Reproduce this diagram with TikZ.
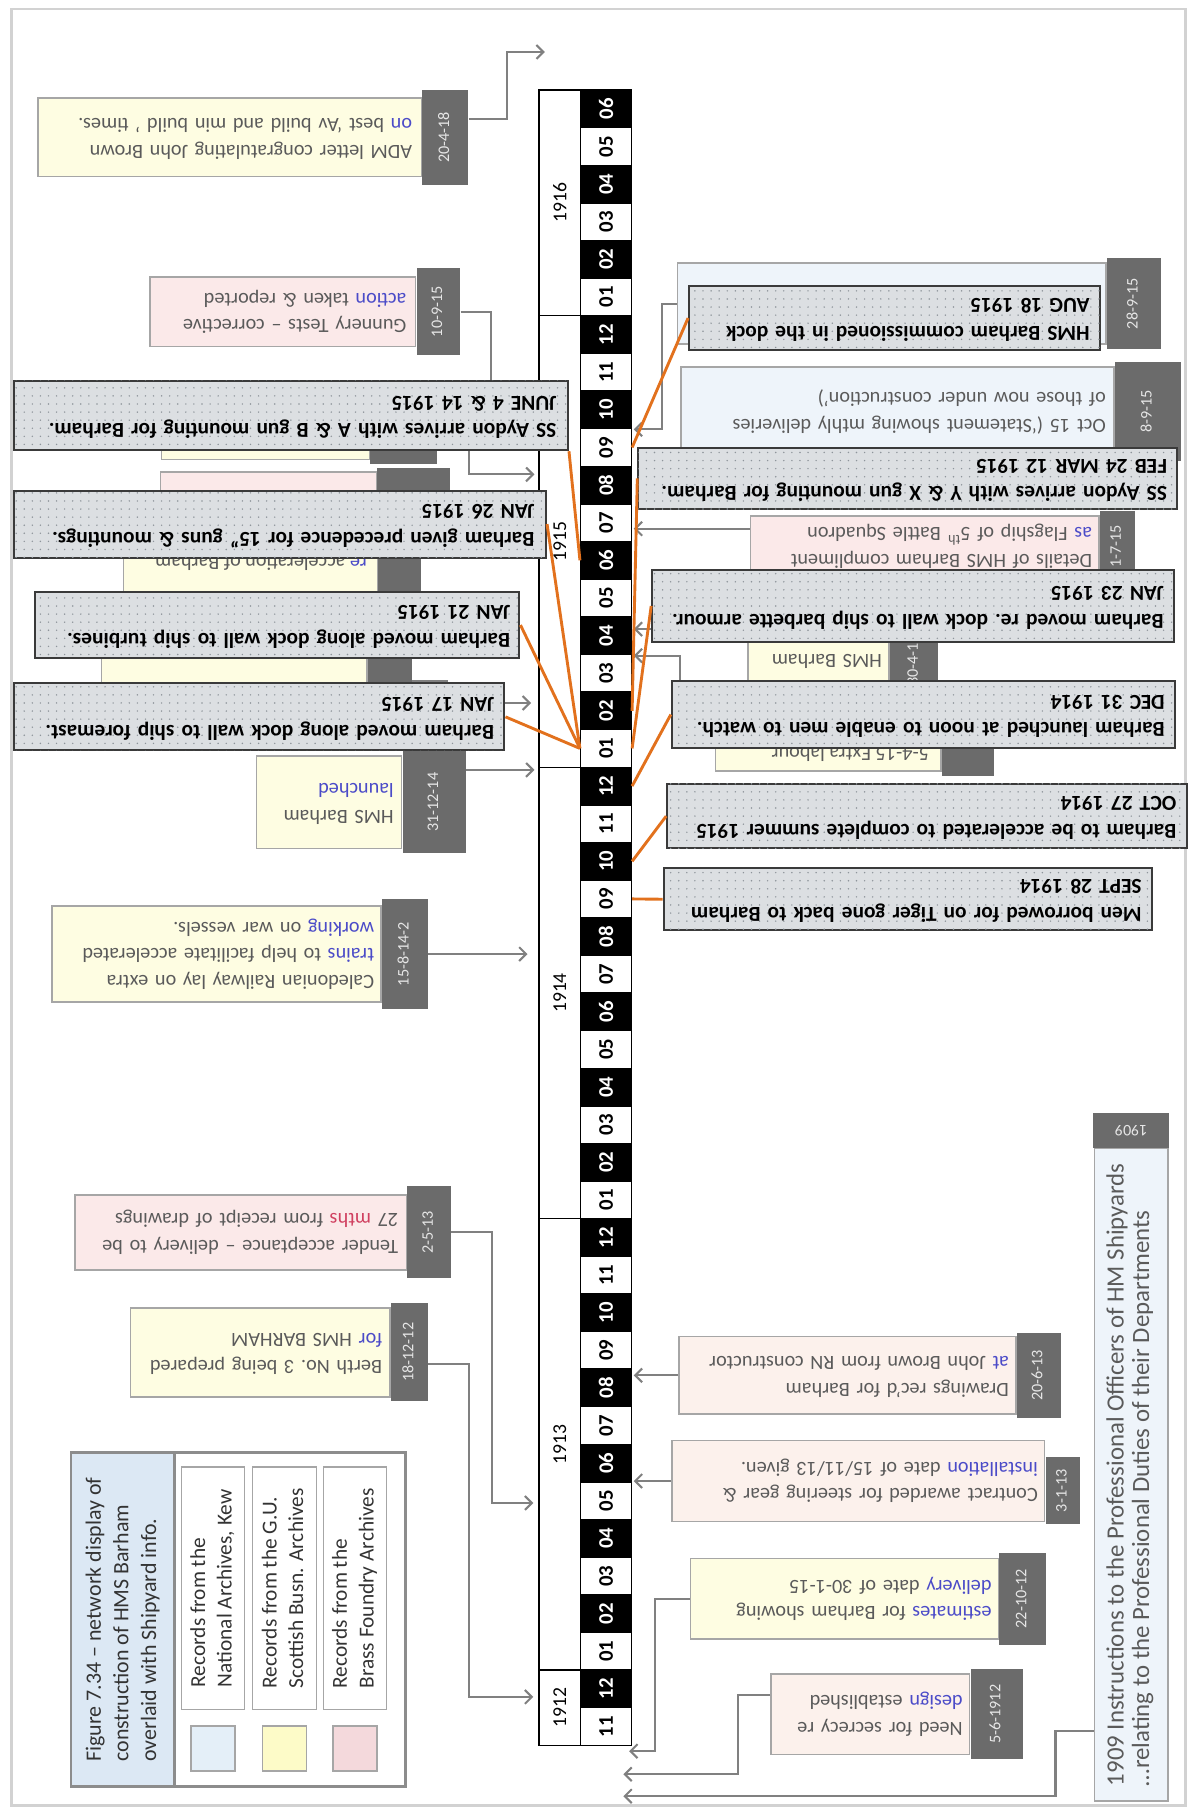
\documentclass[tikz,border=0pt]{standalone}
\usepackage{graphicx}
\usepackage{fontspec}
\setmainfont{Carlito}
\usetikzlibrary{positioning,arrows.meta,patterns.meta}

\definecolor{gfill}{HTML}{DCDFE2}
\definecolor{gdot}{HTML}{8E959B}
\definecolor{gline}{HTML}{3A3A3A}
\definecolor{cline}{HTML}{A6A6A6}
\definecolor{ctext}{HTML}{5A5A5A}
\definecolor{tabgray}{HTML}{6B6B6B}
\definecolor{tabtext}{HTML}{E6E6E6}
\definecolor{nablue}{HTML}{EEF4FA}
\definecolor{guyellow}{HTML}{FEFDE2}
\definecolor{bfpink}{HTML}{FBE9E9}
\definecolor{bfpeach}{HTML}{FCF1EC}
\definecolor{swblue}{HTML}{E4EFF8}
\definecolor{swyellow}{HTML}{FDFBC8}
\definecolor{swpink}{HTML}{F4D9DC}
\definecolor{orangeline}{HTML}{E2711D}
\definecolor{connline}{HTML}{808080}
\definecolor{markblue}{HTML}{4B4BC8}
\definecolor{markred}{HTML}{D04060}
\definecolor{titleblue}{HTML}{DCE8F4}
\definecolor{legendgray}{HTML}{8C8C8C}
\definecolor{framegray}{HTML}{D2D2D2}

\newcommand\flipped[1]{\rotatebox{180}{\begin{tabular}{@{}l@{}}#1\end{tabular}}}
\newcommand\sidewise[1]{\rotatebox{90}{\begin{tabular}{@{}l@{}}#1\end{tabular}}}
\newcommand\blu[1]{\textcolor{markblue}{#1}}

\tikzset{
  month/.style={draw=black, line width=1.2pt, minimum width=44pt, minimum height=32.59pt,
    inner sep=0pt, font=\bfseries\fontsize{18}{18}\selectfont},
  yearbox/.style={draw=black, line width=1.2pt, minimum width=36pt, inner sep=0pt,
    font=\fontsize{17}{17}\selectfont},
  card/.style={draw=cline, line width=1.3pt, inner sep=0pt, align=right, text=ctext,
    font=\fontsize{17.5}{23}\selectfont},
  cardtext/.style={inner sep=0pt, text=ctext, font=\fontsize{17.5}{23}\selectfont},
  tab/.style={fill=tabgray, inner sep=0pt, text=tabtext, font=\fontsize{14}{16}\selectfont},
  gbox/.style={draw=gline, line width=1.8pt, fill=gfill,
    postaction={pattern={Dots[distance=7pt,radius=0.7pt]}, pattern color=gdot},
    inner sep=0pt, align=right, font=\bfseries\fontsize{18.5}{24}\selectfont},
  conn/.style={draw=connline, line width=1.8pt, -{Straight Barb[length=6pt,width=12pt]}},
  tie/.style={draw=orangeline, line width=2.5pt},
  recbox/.style={draw=gray!70, line width=1.2pt, fill=white, minimum width=55pt,
    minimum height=210pt, inner sep=0pt, text=black!80, font=\fontsize{18.5}{23}\selectfont},
  swatch/.style={draw=gray!70, line width=1.5pt, minimum width=38pt, minimum height=39pt, inner sep=0pt},
}

\begin{document}
\begin{tikzpicture}[x=1pt,y=-1pt]
	\useasboundingbox (0,0) rectangle (1030,1568);
	\draw[framegray, line width=2pt] (10,8) rectangle (1027,1564);
	%% years
	\node[yearbox, minimum height=65.18pt] (y1912) at (485,1479.41) {\rotatebox{90}{1912}};
	\node[yearbox, minimum height=391.08pt] (y1913) at (485,1251.28) {\rotatebox{90}{1913}};
	\node[yearbox, minimum height=391.08pt] (y1914) at (485,860.2) {\rotatebox{90}{1914}};
	\node[yearbox, minimum height=391.08pt] (y1915) at (485,469.12) {\rotatebox{90}{1915}};
	\node[yearbox, minimum height=195.54pt] (y1916) at (485,175.81) {\rotatebox{90}{1916}};
	%% months, m0 = 11/1912 ... m43 = 06/1916
	\foreach \k in {0,...,43}{
		\pgfmathtruncatemacro\mon{mod(10+\k,12)+1}
		\pgfmathsetmacro\yc{1512-(\k+0.5)*32.59}
		\ifodd\mon \def\cellfill{white}\def\celltext{black}\else \def\cellfill{black}\def\celltext{white}\fi
		\node[month, fill=\cellfill, text=\celltext] (m\k) at (525,\yc) {\rotatebox{90}{\ifnum\mon<10 0\fi\mon}};
	}

	%% left cards
	\node[card, fill=guyellow, minimum width=332pt, minimum height=68pt, text width=316pt] (adm) at (199,119)
		{\flipped{ADM letter congratulating John Brown\\\blu{on} best ‘Av build and min build ’ times.}};
	\node[tab, minimum width=40pt, minimum height=82pt, right=0pt of adm] (admd) {\sidewise{20-4-18}};
	\node[card, fill=bfpink, minimum width=230pt, minimum height=60pt, text width=214pt] (gun) at (245,270)
		{\flipped{Gunnery Tests – corrective\\\blu{action} taken \& reported}};
	\node[tab, minimum width=38pt, minimum height=75pt, right=0pt of gun] (gund) {\sidewise{10-9-15}};
	\node[card, fill=guyellow, minimum width=180pt, minimum height=58pt] (hid1) at (230,369) {};
	\node[tab, minimum width=58pt, minimum height=66pt, right=0pt of hid1] (hid1d) {};
	\node[card, fill=bfpink, minimum width=187pt, minimum height=61pt] (hid2) at (232.5,439.5) {};
	\node[tab, minimum width=63pt, minimum height=68pt, right=0pt of hid2] (hid2d) {};
	\node[card, fill=guyellow, minimum width=220pt, minimum height=60pt] (accel) at (217,500) {};
	\node[tab, minimum width=37pt, minimum height=68pt, right=0pt of accel] (acceld) {};
	\node[cardtext, anchor=east] (accelt) at (318,487) {\flipped{\blu{re} acceleration of Barham}};
	\node[card, fill=guyellow, minimum width=230pt, minimum height=60pt] (hid3) at (203,590) {};
	\node[tab, minimum width=38pt, minimum height=68pt, right=0pt of hid3] (hid3d) {};
	\node[card, fill=guyellow, minimum width=126pt, minimum height=80pt, text width=112pt] (launch) at (285,695)
		{\flipped{HMS Barham\\\blu{launched}}};
	\node[tab, minimum width=55pt, minimum height=88pt, right=0pt of launch] (launchd) {\sidewise{31-12-14}};
	\node[card, fill=guyellow, minimum width=285pt, minimum height=83pt, text width=273pt] (rail) at (187.5,826.5)
		{\flipped{Caledonian Railway lay on extra\\\blu{trains} to help facilitate accelerated\\\blu{working} on war vessels.}};
	\node[tab, minimum width=40pt, minimum height=96pt, right=0pt of rail] (raild) {\sidewise{15-8-14-2}};
	\node[card, fill=bfpink, minimum width=287pt, minimum height=65pt, text width=273pt] (tender) at (208.5,1067.5)
		{\flipped{Tender acceptance – delivery to be\\27 \textcolor{markred}{mths} from receipt of drawings}};
	\node[tab, minimum width=38pt, minimum height=80pt, right=0pt of tender] (tenderd) {\sidewise{2-5-13}};
	\node[card, fill=guyellow, minimum width=225pt, minimum height=77pt, text width=211pt] (berth) at (225.5,1171.5)
		{\flipped{Berth No.\ 3 being prepared\\\blu{for} HMS BARHAM}};
	\node[tab, minimum width=32pt, minimum height=85pt, right=0pt of berth] (berthd) {\sidewise{18-12-12}};

	%% right cards
	\node[card, fill=nablue, minimum width=371pt, minimum height=70pt] (comm) at (772.5,263) {};
	\node[tab, minimum width=47pt, minimum height=79pt, right=0pt of comm] (commd) {\sidewise{28-9-15}};
	\node[card, fill=nablue, minimum width=375pt, minimum height=77pt, text width=361pt] (stmt) at (777.5,356.5)
		{\flipped{Oct 15 (‘Statement showing mthly deliveries\\of those now under construction’)}};
	\node[tab, minimum width=57pt, minimum height=86pt, right=0pt of stmt] (stmtd) {\sidewise{8-9-15}};
	\node[card, fill=bfpink, minimum width=302pt, minimum height=53pt, text width=290pt] (flag) at (801,473.5)
		{\flipped{Details of HMS Barham compliment\\\blu{as} Flagship of 5\textsuperscript{th} Battle Squadron}};
	\node[tab, minimum width=30pt, minimum height=62pt, right=0pt of flag] (flagd) {\sidewise{1-7-15}};
	\node[card, fill=guyellow, minimum width=122pt, minimum height=48pt, text width=110pt] (hms) at (709,572)
		{\flipped{HMS Barham}};
	\node[tab, minimum width=42pt, minimum height=54pt, right=0pt of hms] (hmsd) {\sidewise{30-4-15}};
	\node[card, fill=guyellow, minimum width=195pt, minimum height=68pt] (labour) at (717.5,634) {};
	\node[tab, minimum width=45pt, minimum height=76pt, right=0pt of labour] (labourd) {};
	\node[cardtext, anchor=east] (labourt) at (805,652) {\flipped{5-4-15 Extra labour}};
	\node[card, fill=bfpeach, minimum width=292pt, minimum height=67pt, text width=280pt] (drawings) at (734,1191.5)
		{\flipped{Drawings rec’d for Barham\\\blu{at} John Brown from RN constructor}};
	\node[tab, minimum width=38pt, minimum height=73pt, right=0pt of drawings] (drawingsd) {\sidewise{20-6-13}};
	\node[card, fill=bfpeach, minimum width=323pt, minimum height=70pt, text width=311pt] (contract) at (743.5,1283)
		{\flipped{Contract awarded for steering gear \&\\\blu{installation} date of 15/11/13 given.}};
	\node[tab, anchor=south west, minimum width=30pt, minimum height=58pt] (contractd)
		at ([yshift=-2pt]contract.south east) {\sidewise{3-1-13}};
	\node[card, fill=guyellow, minimum width=267pt, minimum height=70pt, text width=255pt] (est) at (731.5,1385)
		{\flipped{\blu{estimates} for Barham showing\\\blu{delivery} date of 30-1-15}};
	\node[tab, minimum width=40pt, minimum height=80pt, right=0pt of est] (estd) {\sidewise{22-10-12}};
	\node[card, fill=bfpeach, minimum width=172pt, minimum height=70pt, text width=160pt] (secrecy) at (754,1485)
		{\flipped{Need for secrecy re\\\blu{design} established}};
	\node[tab, minimum width=45pt, minimum height=78pt, right=0pt of secrecy] (secrecyd) {\sidewise{5-6-1912}};
	\node[card, fill=nablue, minimum width=64pt, minimum height=565pt, align=left,
		font=\fontsize{21.5}{22}\selectfont] (instr) at (980,1277.5)
		{\sidewise{1909 Instructions to the Professional Officers of HM Shipyards\\…relating to the Professional Duties of their Departments}};
	\node[tab, minimum width=66pt, minimum height=30pt, above=0pt of instr] (instrd) {\rotatebox{180}{1909}};

	%% arrow ends
	\coordinate (p1) at (472,45);
	\coordinate (p2) at (425,350);
	\coordinate (p4) at (463,411);
	\coordinate (p7) at (460,609);
	\coordinate (p8) at (463,667);
	\coordinate (p9) at (457,826.5);
	\coordinate (p10) at (462,1302);
	\coordinate (p11) at (462,1470);
	\coordinate (u1) at (549,372);
	\coordinate (u3) at (549,458);
	\coordinate (u4) at (549,545);
	\coordinate (u5) at (549,568);
	\coordinate (u6) at (549,1191.5);
	\coordinate (u7) at (549,1283);
	\coordinate (u8) at (545,1517);
	\coordinate (u9) at (540,1537);
	\coordinate (u10) at (540,1556);

	%% card connectors
	\draw[conn] ([yshift=16pt]admd.east) -- ++(33,0) |- (p1);
	\draw[conn, -] (gund.east) -| (p2);
	\draw[conn] (hid1d.east) -- ++(27,0) |- (p4);
	\draw[conn] (hid3d.east) -- ++(30,0) |- (p7);
	\draw[conn] ([yshift=28pt]launchd.east) -- (p8);
	\draw[conn] (raild.east) -- (p9);
	\draw[conn] (tenderd.east) -- ++(35,0) |- (p10);
	\draw[conn] ([yshift=-10pt]berthd.east) -- ++(35,0) |- (p11);
	\draw[conn] (comm.west) -- ++(-13,0) |- (u1);
	\draw[conn] ([yshift=15.5pt]flag.west) -- (u3);
	\draw[conn] (hms.west |- u4) -- (u4);
	\draw[conn] (labour.west) -| ([xshift=40pt]u5) -- (u5);
	\draw[conn] (drawings.west) -- (u6);
	\draw[conn] (contract.west) -- (u7);
	\draw[conn] (est.west) -- ++(-30,0) |- (u8);
	\draw[conn] ([yshift=17pt]secrecy.west) -- ++(-28,0) |- (u9);
	\draw[conn] ([yshift=-222pt]instr.west) -- ++(-33,0) |- (u10);

	%% key events, left
	\node[gbox, minimum width=480pt, minimum height=60pt, text width=460pt] (g1) at (252,360)
		{\flipped{SS Aydon arrives with A \& B gun mounting for Barham.\\JUNE 4 \& 14 1915}};
	\node[gbox, minimum width=461pt, minimum height=58pt, text width=441pt] (g2) at (242.5,454)
		{\flipped{Barham given precedence for 15” guns \& mountings.\\JAN 26 1915}};
	\node[gbox, minimum width=420pt, minimum height=57pt, text width=404pt] (g3) at (240,541.5)
		{\flipped{Barham moved along dock wall to ship turbines.\\JAN 21 1915}};
	\node[gbox, minimum width=425pt, minimum height=58pt, text width=407pt] (g4) at (224.5,621)
		{\flipped{Barham moved along dock wall to ship foremast.\\JAN 17 1915}};
	%% key events, right
	\node[gbox, minimum width=356pt, minimum height=55pt, text width=338pt] (r1) at (775,275.5)
		{\flipped{HMS Barham commissioned in the dock\\AUG 18 1915}};
	\node[gbox, minimum width=467pt, minimum height=53pt, text width=449pt] (r2) at (786.5,414.5)
		{\flipped{SS Aydon arrives with Y \& X gun mounting for Barham.\\FEB 24 MAR 12 1915}};
	\node[gbox, minimum width=452pt, minimum height=62pt, text width=434pt] (r3) at (791,525)
		{\flipped{Barham moved re.\ dock wall to ship barbette armour.\\JAN 23 1915}};
	\node[gbox, minimum width=436pt, minimum height=58pt, text width=418pt] (r4) at (800,619)
		{\flipped{Barham launched at noon to enable men to watch.\\DEC 31 1914}};
	\node[gbox, minimum width=450pt, minimum height=56pt, text width=432pt] (r5) at (803,707)
		{\flipped{Barham to be accelerated to complete summer 1915\\OCT 27 1914}};
	\node[gbox, minimum width=423pt, minimum height=54pt, text width=405pt] (r6) at (786.5,779)
		{\flipped{Men borrowed for on Tiger gone back to Barham\\SEPT 28 1914}};

	%% orange ties to the months
	\draw[tie] (g1.south east) -- (m31.west);
	\draw[tie] (g2.east) -- (m26.west);
	\draw[tie] (g3.east) -- (m26.west);
	\draw[tie] (g4.east) -- (m26.west);
	\draw[tie] (r1.west) -- (m34.east);
	\draw[tie] (r2.west) -- (m27.east);
	\draw[tie] (r3.west) -- (m26.east);
	\draw[tie] (r4.west) -- (m25.east);
	\draw[tie] (r5.west) -- (m23.east);
	\draw[tie] (r6.west) -- (m22.east);

	%% key
	\node[draw=legendgray, line width=2.5pt, fill=white, minimum width=290pt, minimum height=290pt] (legend) at (206.5,1403) {};
	\node[draw=legendgray, line width=2.5pt, fill=titleblue, minimum width=90pt, minimum height=290pt,
		inner sep=0pt, anchor=west, text=black!80, font=\fontsize{19}{24}\selectfont] (legtitle) at (legend.west)
		{\sidewise{Figure 7.34 – network display of\\construction of HMS Barham\\overlaid with Shipyard info.}};
	\node[recbox] (recna) at (184.5,1376) {\sidewise{Records from the\\National Archives, Kew}};
	\node[recbox] (recgu) at (246.5,1376) {\sidewise{Records from the G.U.\\Scottish Busn. Archives}};
	\node[recbox] (recbf) at (307.5,1376) {\sidewise{Records from the\\Brass Foundry Archives}};
	\node[swatch, fill=swblue, below=13pt of recna] (swna) {};
	\node[swatch, fill=swyellow, below=13pt of recgu] (swgu) {};
	\node[swatch, fill=swpink, below=13pt of recbf] (swbf) {};
\end{tikzpicture}
\end{document}
